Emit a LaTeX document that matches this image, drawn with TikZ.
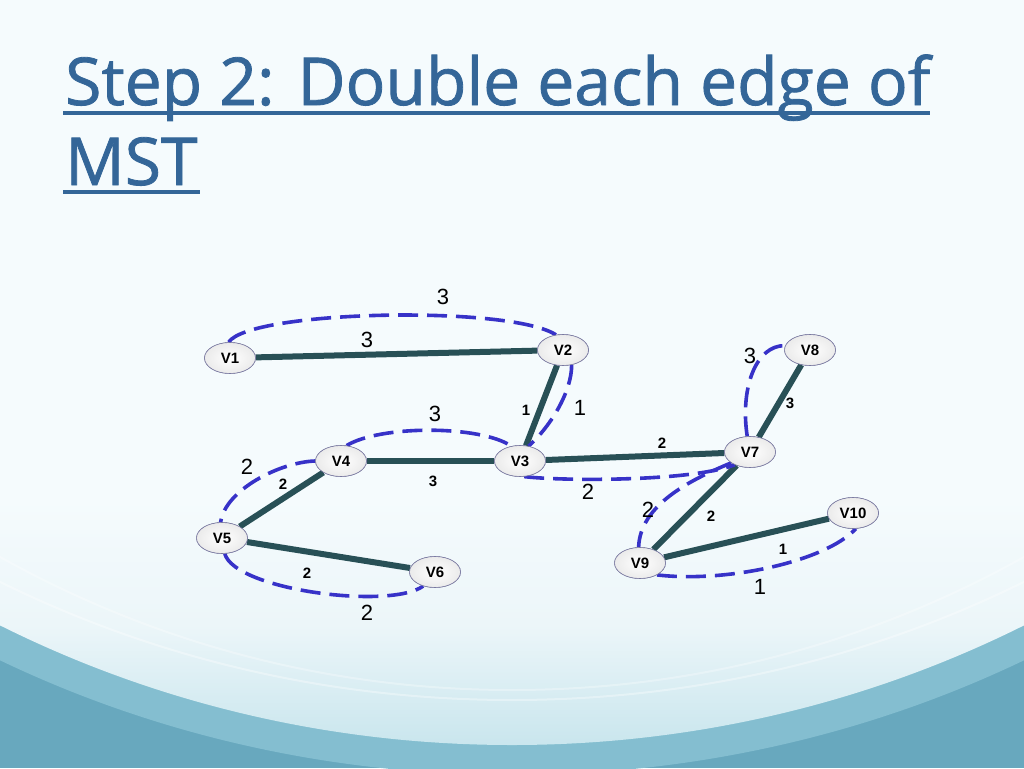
\documentclass[tikz,border=0pt]{standalone}
\usepackage{fontspec}
\setmainfont{Liberation Sans}
\newfontfamily\titlefont[FakeBold=1.2]{Open Sans}
\usetikzlibrary{shapes.geometric}
\definecolor{titleblue}{RGB}{52,102,152}
\definecolor{edgedark}{RGB}{40,80,86}
\definecolor{dashblue}{RGB}{55,50,200}
\definecolor{nodeborder}{RGB}{120,120,160}
\definecolor{bgA}{RGB}{104,168,190}
\definecolor{bgB}{RGB}{132,190,208}
\definecolor{bgC}{RGB}{200,229,237}
\definecolor{bgE}{RGB}{245,251,253}
\definecolor{bgF}{RGB}{236,246,249}
\tikzset{
  vert/.style={ellipse, draw=nodeborder, line width=0.6pt, inner color=white, outer color=black!8,
    minimum width=51pt, minimum height=31pt, inner sep=0pt, font=\fontsize{15}{15}\selectfont\bfseries},
  mst/.style={line width=6pt, draw=edgedark},
  dbl/.style={line width=3.6pt, draw=dashblue, dash pattern=on 20pt off 9pt},
  wsmall/.style={font=\fontsize{15}{15}\selectfont\bfseries, inner sep=0pt},
  wbig/.style={font=\fontsize{22}{22}\selectfont, inner sep=0pt},
}
\begin{document}
\begin{tikzpicture}[x=1pt,y=-1pt]
\useasboundingbox (0,0) rectangle (1024,768);
% background
\begin{scope}
\clip (0,0) rectangle (1024,768);
\fill[bgA] (0,0) rectangle (1024,768);
\fill[bgB] (512,-225) ellipse [x radius=1100, y radius=1000];
\begin{scope}
\clip (512,-298) ellipse [x radius=1100, y radius=1043];
\fill[bgE] (0,0) rectangle (1024,500);
\shade[top color=bgE, bottom color=bgC, middle color=bgF] (0,499) rectangle (1024,750);
\end{scope}
\draw[white, opacity=0.35, line width=2pt] (512,-330) ellipse [x radius=1100, y radius=1030];
\draw[white, opacity=0.3, line width=2pt] (512,-360) ellipse [x radius=1050, y radius=1050];
\end{scope}
% title
\node[anchor=base west, inner sep=0pt, text=titleblue, font=\titlefont\fontsize{66}{66}\selectfont] (t1) at (65,105) {Step 2: Double each edge of};
\node[anchor=base west, inner sep=0pt, text=titleblue, font=\titlefont\fontsize{66}{66}\selectfont] (t2) at (65,185) {MST};
\draw[titleblue, line width=4pt] ([shift={(-2,8)}]t1.base west) -- ([shift={(0,8)}]t1.base east);
\draw[titleblue, line width=4pt] ([shift={(-2,7)}]t2.base west) -- ([shift={(2,7)}]t2.base east);
% vertices
\node[vert] (v1) at (230,358) {V1};
\node[vert] (v2) at (563,350) {V2};
\node[vert] (v3) at (520,461) {V3};
\node[vert] (v4) at (341,461) {V4};
\node[vert] (v5) at (222,538) {V5};
\node[vert] (v6) at (435,572) {V6};
\node[vert] (v7) at (750,452) {V7};
\node[vert] (v8) at (810,350) {V8};
\node[vert] (v9) at (640,563) {V9};
\node[vert] (v10) at (853,513) {V10};
% MST edges
\draw[mst] (v1) -- (v2);
\draw[mst] (v2) -- (v3);
\draw[mst] (v3) -- (v4);
\draw[mst] (v4) -- (v5);
\draw[mst] (v5) -- (v6);
\draw[mst] (v3) -- (v7);
\draw[mst] (v7) -- (v8);
\draw[mst] (v7) -- (v9);
\draw[mst] (v9) -- (v10);
% doubled edges
\draw[dbl] (v1.95) .. controls (250,310) and (510,305) .. (v2.115);
\draw[dbl] (v2.-60) .. controls (572,390) and (552,425) .. (v3.60);
\draw[dbl] (v4.70) .. controls (380,425) and (480,425) .. (v3.120);
\draw[dbl] (v3.-75) .. controls (560,481) and (690,482) .. (v7.-140);
\draw[dbl] (v4.west) .. controls (280,462) and (225,490) .. (v5.95);
\draw[dbl] (v5.-80) .. controls (235,590) and (390,610) .. (v6.-130);
\draw[dbl] (v7.-150) .. controls (690,480) and (640,505) .. (v9.95);
\draw[dbl] (v7.100) .. controls (740,390) and (755,345) .. (v8.170);
\draw[dbl] (v9.-35) .. controls (725,583) and (825,562) .. (v10.-80);
% redraw nodes on top
\node[vert] at (v1) {V1};
\node[vert] at (v2) {V2};
\node[vert] at (v3) {V3};
\node[vert] at (v4) {V4};
\node[vert] at (v5) {V5};
\node[vert] at (v6) {V6};
\node[vert] at (v7) {V7};
\node[vert] at (v8) {V8};
\node[vert] at (v9) {V9};
\node[vert] at (v10) {V10};
% weights
\node[wbig] (l1) at (443,297) {3};
\node[wbig] (l2) at (367,340) {3};
\node[wsmall] (l3) at (526,410) {1};
\node[wbig] (l4) at (580,408) {1};
\node[wbig] (l5) at (435,414) {3};
\node[wsmall] (l6) at (433,481) {3};
\node[wbig] (l7) at (247,467) {2};
\node[wsmall] (l8) at (283,484) {2};
\node[wsmall] (l9) at (307,573) {2};
\node[wbig] (l10) at (367,613) {2};
\node[wsmall] (l11) at (662,443) {2};
\node[wbig] (l12) at (588,492) {2};
\node[wbig] (l13) at (648,510) {2};
\node[wsmall] (l14) at (711,516) {2};
\node[wbig] (l15) at (750,356) {3};
\node[wsmall] (l16) at (790,403) {3};
\node[wsmall] (l17) at (783,549) {1};
\node[wbig] (l18) at (760,587) {1};
\end{tikzpicture}
\end{document}
